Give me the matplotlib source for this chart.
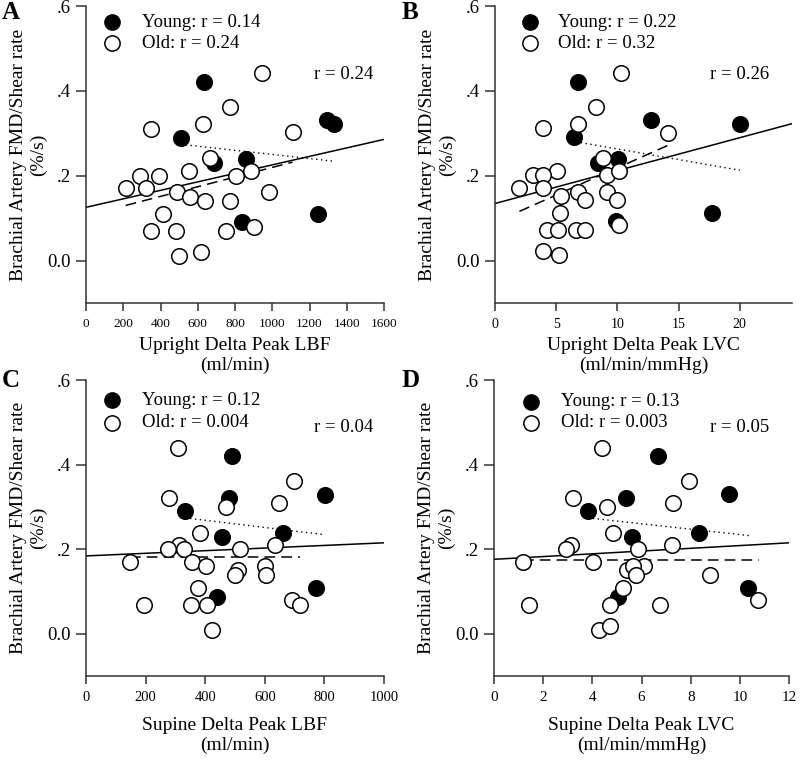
import matplotlib
matplotlib.use("Agg")
import matplotlib.pyplot as plt

plt.rcParams['font.family'] = ['Liberation Serif', 'DejaVu Serif']

# ---- panel A: upright delta peak LBF ----
a_young_x = [631, 509, 685, 859, 838, 1295, 1334, 1247]
a_young_y = [0.420, 0.290, 0.230, 0.240, 0.090, 0.331, 0.321, 0.110]
a_old_x = [945, 775, 626, 348, 1109, 667, 552, 291, 391, 805, 888, 213, 323,
           488, 560, 637, 775, 981, 416, 348, 484, 752, 900, 502, 619]
a_old_y = [0.442, 0.361, 0.321, 0.311, 0.302, 0.242, 0.211, 0.200, 0.200,
           0.200, 0.211, 0.170, 0.171, 0.161, 0.150, 0.141, 0.141, 0.161,
           0.110, 0.070, 0.070, 0.070, 0.080, 0.011, 0.020]
a_fit_all = ([0, 1600], [0.1255, 0.2856])
a_fit_old = ([213, 1109], [0.130, 0.232])
a_fit_young = ([509, 1334], [0.274, 0.234])

# ---- panel B: upright delta peak LVC ----
b_young_x = [6.79, 6.47, 12.72, 20.0, 8.37, 10.08, 9.86, 17.74]
b_young_y = [0.421, 0.292, 0.331, 0.321, 0.231, 0.240, 0.093, 0.111]
b_old_x = [10.27, 8.23, 6.74, 3.89, 14.16, 8.83, 5.05, 3.07, 3.89, 9.13, 10.14,
           1.98, 3.89, 5.38, 6.74, 7.36, 9.13, 10.0, 5.33, 4.21, 5.11, 6.6,
           7.36, 10.14, 3.89, 5.24]
b_old_y = [0.441, 0.363, 0.321, 0.312, 0.301, 0.241, 0.211, 0.201, 0.201,
           0.201, 0.211, 0.172, 0.172, 0.152, 0.161, 0.142, 0.161, 0.142,
           0.113, 0.072, 0.072, 0.072, 0.072, 0.083, 0.022, 0.012]
b_fit_all = ([0, 24.27], [0.1346, 0.3227])
b_fit_old = ([1.98, 14.16], [0.116, 0.272])
b_fit_young = ([6.6, 20.0], [0.280, 0.213])

# ---- panel C: supine delta peak LBF ----
c_young_x = [491, 481, 333, 803, 458, 660, 438, 772]
c_young_y = [0.420, 0.320, 0.290, 0.329, 0.229, 0.239, 0.088, 0.109]
c_old_x = [309, 699, 279, 646, 470, 382, 312, 275, 328, 517, 633, 146, 356,
           404, 511, 500, 599, 604, 376, 194, 352, 407, 691, 719, 424]
c_old_y = [0.440, 0.361, 0.320, 0.309, 0.300, 0.239, 0.211, 0.200, 0.200,
           0.200, 0.211, 0.170, 0.170, 0.159, 0.150, 0.140, 0.160, 0.140,
           0.109, 0.069, 0.069, 0.069, 0.079, 0.069, 0.0095]
c_fit_all = ([0, 1000], [0.184, 0.215])
c_fit_old = ([146, 719], [0.181, 0.181])
c_fit_young = ([333, 803], [0.274, 0.234])

# ---- panel D: supine delta peak LVC ----
d_young_x = [6.65, 5.37, 3.82, 9.57, 5.61, 8.33, 5.03, 10.33]
d_young_y = [0.420, 0.320, 0.290, 0.330, 0.229, 0.239, 0.088, 0.109]
d_old_x = [4.38, 7.93, 3.21, 7.28, 4.58, 4.83, 3.11, 2.91, 5.86, 7.25, 1.19,
           4.02, 6.08, 5.39, 5.66, 5.77, 8.78, 5.23, 1.43, 4.72, 6.74, 10.73,
           4.25, 4.72]
d_old_y = [0.440, 0.361, 0.320, 0.309, 0.300, 0.239, 0.211, 0.200, 0.200,
           0.211, 0.170, 0.170, 0.159, 0.150, 0.159, 0.140, 0.140, 0.109,
           0.069, 0.069, 0.069, 0.079, 0.0095, 0.018]
d_fit_all = ([0, 12], [0.176, 0.215])
d_fit_old = ([1.19, 10.79], [0.174, 0.174])
d_fit_young = ([3.82, 10.38], [0.274, 0.232])

y_ticks = [0.0, 0.2, 0.4, 0.6]
y_tick_labels = ["0.0", ".2", ".4", ".6"]
ylabel = "Brachial Artery FMD/Shear rate\n(%/s)"

panels = [
    dict(letter="A", rect=[0.1075, 0.6013, 0.3725, 0.3908],
         young=(a_young_x, a_young_y), old=(a_old_x, a_old_y),
         fits=(a_fit_all, a_fit_old, a_fit_young),
         xlim=(0, 1600), xticks=range(0, 1601, 200), xtick_size=9.5,
         xlabel="Upright Delta Peak LBF\n(ml/min)", xlabel_y=-0.115,
         legend=("Young: r = 0.14", "Old: r = 0.24"), r_text="r = 0.24",
         mk_x=0.087, tx_x=0.188, leg_y=(0.946, 0.875), r_pos=(0.963, 0.771)),
    dict(letter="B", rect=[0.619, 0.6013, 0.371, 0.3908],
         young=(b_young_x, b_young_y), old=(b_old_x, b_old_y),
         fits=(b_fit_all, b_fit_old, b_fit_young),
         xlim=(0, 24.27), xticks=range(0, 21, 5), xtick_size=10,
         xlabel="Upright Delta Peak LVC\n(ml/min/mmHg)", xlabel_y=-0.115,
         legend=("Young: r = 0.22", "Old: r = 0.32"), r_text="r = 0.26",
         mk_x=0.118, tx_x=0.212, leg_y=(0.946, 0.875), r_pos=(0.922, 0.771)),
    dict(letter="C", rect=[0.1075, 0.1105, 0.3725, 0.3895],
         young=(c_young_x, c_young_y), old=(c_old_x, c_old_y),
         fits=(c_fit_all, c_fit_old, c_fit_young),
         xlim=(0, 1000), xticks=range(0, 1001, 200), xtick_size=10.5,
         xlabel="Supine Delta Peak LBF\n(ml/min)", xlabel_y=-0.139,
         legend=("Young: r = 0.12", "Old: r = 0.004"), r_text="r = 0.04",
         mk_x=0.087, tx_x=0.188, leg_y=(0.932, 0.855), r_pos=(0.963, 0.838)),
    dict(letter="D", rect=[0.6175, 0.1105, 0.369, 0.3895],
         young=(d_young_x, d_young_y), old=(d_old_x, d_old_y),
         fits=(d_fit_all, d_fit_old, d_fit_young),
         xlim=(0, 12), xticks=range(0, 13, 2), xtick_size=11,
         xlabel="Supine Delta Peak LVC\n(ml/min/mmHg)", xlabel_y=-0.139,
         legend=("Young: r = 0.13", "Old: r = 0.003"), r_text="r = 0.05",
         mk_x=0.125, tx_x=0.227, leg_y=(0.926, 0.855), r_pos=(0.932, 0.838)),
]

fig = plt.figure(figsize=(8, 7.6), dpi=100)
axis_color = "#333333"

for p in panels:
    ax = fig.add_axes(p["rect"])
    ax.set_xlim(*p["xlim"])
    ax.set_ylim(-0.1, 0.6)
    for side in ("top", "right"):
        ax.spines[side].set_visible(False)
    for side in ("left", "bottom"):
        ax.spines[side].set_color(axis_color)
        ax.spines[side].set_linewidth(1.1)

    fit_all, fit_old, fit_young = p["fits"]
    ax.plot(fit_all[0], fit_all[1], color="black", lw=1.1, zorder=2)
    ax.plot(fit_old[0], fit_old[1], color="black", lw=1.1, dashes=(7, 4), zorder=2)
    ax.plot(fit_young[0], fit_young[1], color="black", lw=1.0, dashes=(1, 2.5), zorder=2)

    ax.scatter(p["young"][0], p["young"][1], s=125, facecolor="black",
               edgecolor="black", linewidth=1.1, zorder=3, clip_on=False)
    ax.scatter(p["old"][0], p["old"][1], s=125, facecolor="white",
               edgecolor="black", linewidth=1.1, zorder=4, clip_on=False)

    ax.set_xticks(list(p["xticks"]))
    ax.set_yticks(y_ticks)
    ax.set_yticklabels(y_tick_labels)
    ax.tick_params(axis="x", direction="out", length=6, width=1.1, pad=5,
                   labelsize=p["xtick_size"], color=axis_color)
    ax.tick_params(axis="y", direction="out", length=7, width=1.1, pad=4,
                   labelsize=13.5, color=axis_color)

    ax.set_xlabel(p["xlabel"], fontsize=14)
    ax.xaxis.set_label_coords(0.5, p["xlabel_y"])
    ax.set_ylabel(ylabel, fontsize=14)
    ax.yaxis.set_label_coords(-0.132, 0.5)

    # legend drawn by hand
    ax.plot([p["mk_x"]], [p["leg_y"][0]], "o", ms=11, mfc="black", mec="black",
            transform=ax.transAxes, clip_on=False)
    ax.plot([p["mk_x"]], [p["leg_y"][1]], "o", ms=11, mfc="white", mec="black",
            mew=1.1, transform=ax.transAxes, clip_on=False)
    ax.text(p["tx_x"], p["leg_y"][0], p["legend"][0], fontsize=13.5,
            transform=ax.transAxes, va="center", ha="left")
    ax.text(p["tx_x"], p["leg_y"][1], p["legend"][1], fontsize=13.5,
            transform=ax.transAxes, va="center", ha="left")
    ax.text(p["r_pos"][0], p["r_pos"][1], p["r_text"], fontsize=13.5,
            transform=ax.transAxes, va="center", ha="right")

fig.text(2 / 800, 1 - 1 / 760, "A", fontsize=18, fontweight="bold", va="top", ha="left")
fig.text(402 / 800, 1 - 1 / 760, "B", fontsize=18, fontweight="bold", va="top", ha="left")
fig.text(2 / 800, 1 - 369 / 760, "C", fontsize=18, fontweight="bold", va="top", ha="left")
fig.text(402 / 800, 1 - 369 / 760, "D", fontsize=18, fontweight="bold", va="top", ha="left")

fig.savefig("out.png", dpi=100)
